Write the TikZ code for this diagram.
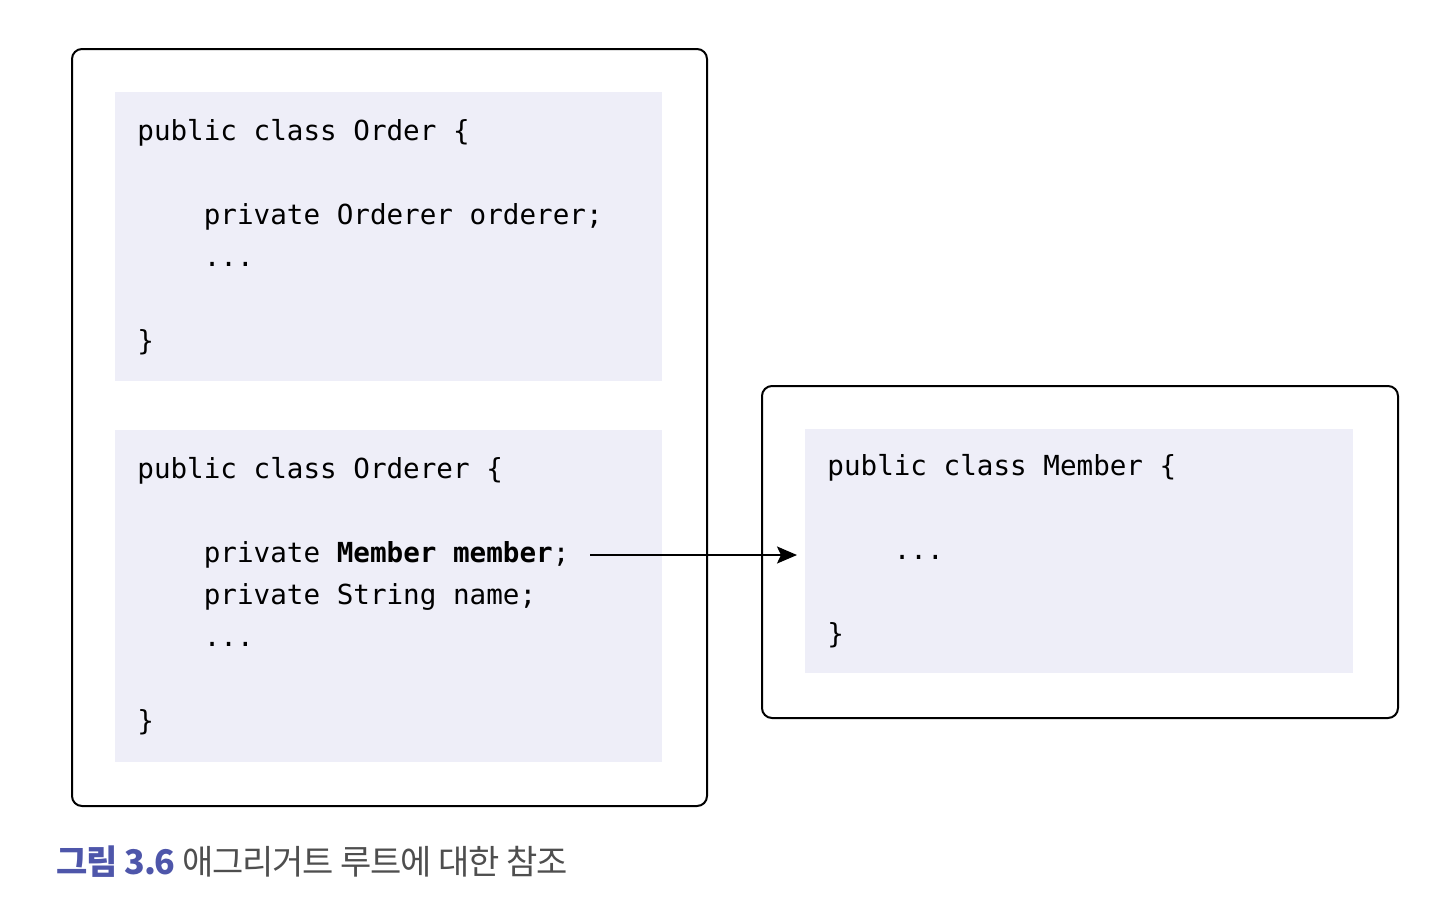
\documentclass[tikz,border=0pt]{standalone}
\usepackage{fontspec}
\setmonofont{DejaVu Sans Mono}
\newfontfamily\krfont{Noto Sans CJK KR}
\usetikzlibrary{positioning,arrows.meta}
\definecolor{codebg}{RGB}{238,238,248}
\definecolor{figblue}{RGB}{78,86,170}
\definecolor{figgray}{RGB}{78,78,78}
\newcommand{\ind}{\phantom{0000}}

\begin{document}
\begin{tikzpicture}[x=0.5pt,y=-0.5pt,
                    box/.style={draw,line width=1pt,rounded corners=5pt},
                    code/.style={fill=codebg,align=left,anchor=north west,
                                 font=\ttfamily\fontsize{13.8}{21}\selectfont,
                                 execute at begin node={\spaceskip=8.31pt\relax},
                                 text width=251.5pt,inner xsep=11pt,inner ysep=0pt}]
  \useasboundingbox (0,0) rectangle (1440,905);
  \node[box,minimum width=317.5pt,minimum height=378.5pt] (orderbox) at (389.5,427.5) {};
  \node[code,minimum height=144.5pt,below right=22pt and 22pt of orderbox.north west] (order)
    {public class Order \{\\\mbox{}\\
     \ind private Orderer orderer;\\
     \ind ...\\\mbox{}\\
     \}};
  \node[code,minimum height=166pt,below=24pt of order] (orderer)
    {public class Orderer \{\\\mbox{}\\
     \ind private \textbf{Member member};\\
     \ind private String name;\\
     \ind ...\\\mbox{}\\
     \}};
  \node[box,minimum width=318pt,minimum height=166pt] (memberbox) at (1080,552) {};
  \node[code,minimum height=122pt,text width=252pt,
        below right=22pt and 22pt of memberbox.north west] (member)
    {public class Member \{\\\mbox{}\\
     \ind ...\\\mbox{}\\
     \}};
  % the reference starts just past the bold field, not at the panel edge
  \coordinate (ref) at (590,555);
  \draw[line width=1pt,-{Stealth[length=10pt,width=8.5pt,inset=2pt]},shorten >=4pt]
    (ref) -- (ref -| member.west);
  \node[anchor=west,inner sep=0pt,text=figgray,
        font=\krfont\fontsize{17}{20}\selectfont] (caption) at (56,862)
    {\addfontfeature{LetterSpace=-3.3}{\color{figblue}\bfseries 그림 3.6} 애그리거트 루트에 대한 참조};
\end{tikzpicture}
\end{document}
